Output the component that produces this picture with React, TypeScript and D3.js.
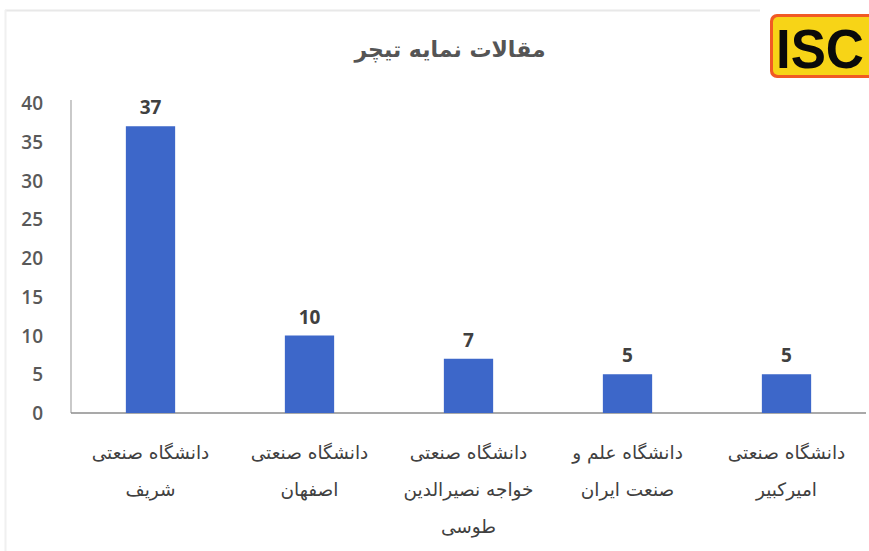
import React from "react";
import * as d3 from "d3";

const categories: string[][] = [
  ["دانشگاه صنعتی", "شریف"],
  ["دانشگاه صنعتی", "اصفهان"],
  ["دانشگاه صنعتی", "خواجه نصیرالدین", "طوسی"],
  ["دانشگاه علم و", "صنعت ایران"],
  ["دانشگاه صنعتی", "امیرکبیر"],
];
const values: number[] = [37, 10, 7, 5, 5];
const yTicks: number[] = [0, 5, 10, 15, 20, 25, 30, 35, 40];
const title = "مقالات نمایه تیچر";

const W = 869;
const H = 551;
const left = 71;
const right = 866;
const top = 103;
const bottom = 413;

export default function App() {
  const x = d3
    .scaleBand<number>()
    .domain(values.map((_, i) => i))
    .range([left, right])
    .paddingInner(0.69)
    .paddingOuter(0.345);
  const y = d3.scaleLinear().domain([0, 40]).range([bottom, top]);
  const bw = x.bandwidth();
  const persian = "'DejaVu Sans', 'Noto Sans', sans-serif";
  const num = "'Open Sans', 'Liberation Sans', sans-serif";

  return (
    <svg
      width={W}
      height={H}
      style={{ position: "absolute", left: 0, top: 0, background: "#fff" }}
    >
      <rect x={0} y={0} width={W} height={H} fill="#ffffff" />
      <line x1={5} x2={760} y1={10.5} y2={10.5} stroke="#e8e8e8" strokeWidth={2} />
      <line x1={5.5} x2={5.5} y1={10} y2={551} stroke="#f0f0f0" strokeWidth={2} />

      {/* Logo */}
      <g>
        <rect x={770} y={14} width={110} height={64} rx={7} fill="#f15a24" />
        <rect x={773} y={17} width={110} height={58} rx={5} fill="#f7d417" />
        <text
          x={776}
          y={68}
          fontFamily="'Liberation Sans', Arial, sans-serif"
          fontWeight={900}
          fontSize={56}
          fill="#0a0a0a"
          textLength={88}
          lengthAdjust="spacingAndGlyphs"
        >
          ISC
        </text>
      </g>

      {/* Title */}
      <text
        x={450}
        y={57}
        textAnchor="middle"
        fontFamily={persian}
        fontWeight="bold"
        fontSize={22}
        fill="#555555"
        direction="rtl"
      >
        {title}
      </text>

      {/* Y axis */}
      <line x1={left} x2={left} y1={top - 3} y2={bottom} stroke="#a6a6a6" strokeWidth={1.2} />
      <line x1={left} x2={right} y1={bottom} y2={bottom} stroke="#8c8c8c" strokeWidth={1.5} />
      {yTicks.map((t) => (
        <text
          key={t}
          x={43}
          y={y(t) + 7}
          textAnchor="end"
          fontFamily={num}
          fontSize={19}
          fontWeight={600}
          fill="#595959"
        >
          {t}
        </text>
      ))}

      {/* Bars */}
      {values.map((v, i) => (
        <g key={i}>
          <rect
            x={x(i)!}
            y={y(v)}
            width={bw}
            height={bottom - y(v)}
            fill="#3d67c9"
          />
          <text
            x={x(i)! + bw / 2}
            y={y(v) - 12}
            textAnchor="middle"
            fontFamily={num}
            fontWeight="bold"
            fontSize={19}
            fill="#404040"
          >
            {v}
          </text>
          {categories[i].map((line, j) => (
            <text
              key={j}
              x={x(i)! + bw / 2}
              y={459 + j * 37}
              textAnchor="middle"
              fontFamily={persian}
              fontSize={18.5}
              fill="#404040"
              direction="rtl"
            >
              {line}
            </text>
          ))}
        </g>
      ))}
    </svg>
  );
}
